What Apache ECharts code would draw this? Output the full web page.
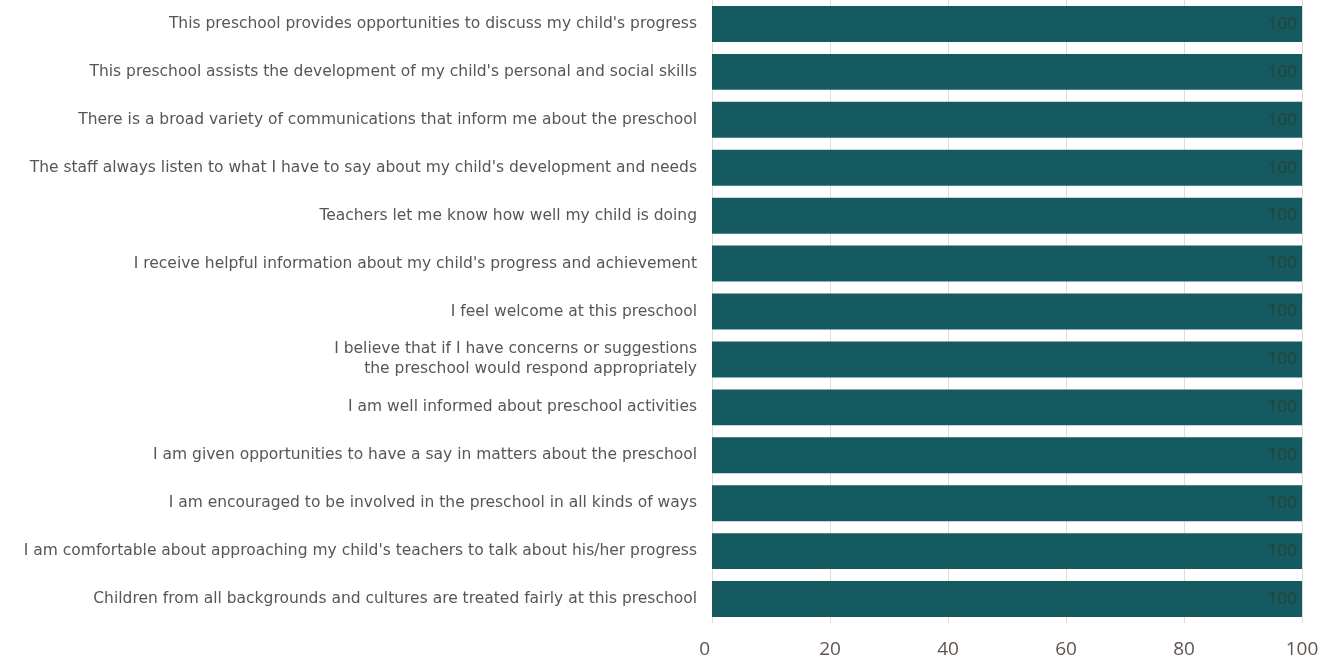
<!DOCTYPE html>
<html>
<head>
<meta charset="utf-8">
<script src="https://cdn.jsdelivr.net/npm/echarts@6/dist/echarts.min.js"></script>
<style>
	html, body { margin: 0; padding: 0; background: #fff; }
	#chart { width: 1338px; height: 665px; }
</style>
</head>
<body>
<div id="chart"></div>
<script>
// statements, top to bottom as shown
const statements = [
	'This preschool provides opportunities to discuss my child\'s progress',
	'This preschool assists the development of my child\'s personal and social skills',
	'There is a broad variety of communications that inform me about the preschool',
	'The staff always listen to what I have to say about my child\'s development and needs',
	'Teachers let me know how well my child is doing',
	'I receive helpful information about my child\'s progress and achievement',
	'I feel welcome at this preschool',
	'I believe that if I have concerns or suggestions\nthe preschool would respond appropriately',
	'I am well informed about preschool activities',
	'I am given opportunities to have a say in matters about the preschool',
	'I am encouraged to be involved in the preschool in all kinds of ways',
	'I am comfortable about approaching my child\'s teachers to talk about his/her progress',
	'Children from all backgrounds and cultures are treated fairly at this preschool'
];
const percentAgree = [100, 100, 100, 100, 100, 100, 100, 100, 100, 100, 100, 100, 100];
const xTicks = [0, 20, 40, 60, 80, 100];

const chart = echarts.init(document.getElementById('chart'));

const option = {
	animation: false,
	grid: { left: 712, right: 36, top: -4, bottom: 42 },
	xAxis: {
		type: 'value',
		min: xTicks[0],
		max: xTicks[xTicks.length - 1],
		interval: 20,
		axisLine: { show: false },
		axisTick: { show: false },
		splitLine: { show: true, lineStyle: { color: '#e0dcdc', width: 1 } },
		axisLabel: {
			color: '#5e5450',
			fontSize: 19,
			fontFamily: 'Open Sans',
			margin: 17,
			formatter: (v) => (v === 0 ? '0   ' : String(v))
		}
	},
	yAxis: {
		type: 'category',
		inverse: true,
		data: statements,
		axisLine: { show: false },
		axisTick: { show: false },
		axisLabel: {
			color: '#5a5555',
			fontSize: 15.5,
			fontFamily: 'DejaVu Sans',
			margin: 15,
			lineHeight: 20
		}
	},
	series: [{
		type: 'bar',
		data: percentAgree,
		barCategoryGap: '25%',
		itemStyle: { color: '#145a60' },
		label: {
			show: true,
			position: 'insideRight',
			color: '#2a4236',
			fontSize: 17,
			fontFamily: 'Open Sans',
			offset: [0, 0]
		}
	}]
};

chart.setOption(option);
</script>
</body>
</html>
